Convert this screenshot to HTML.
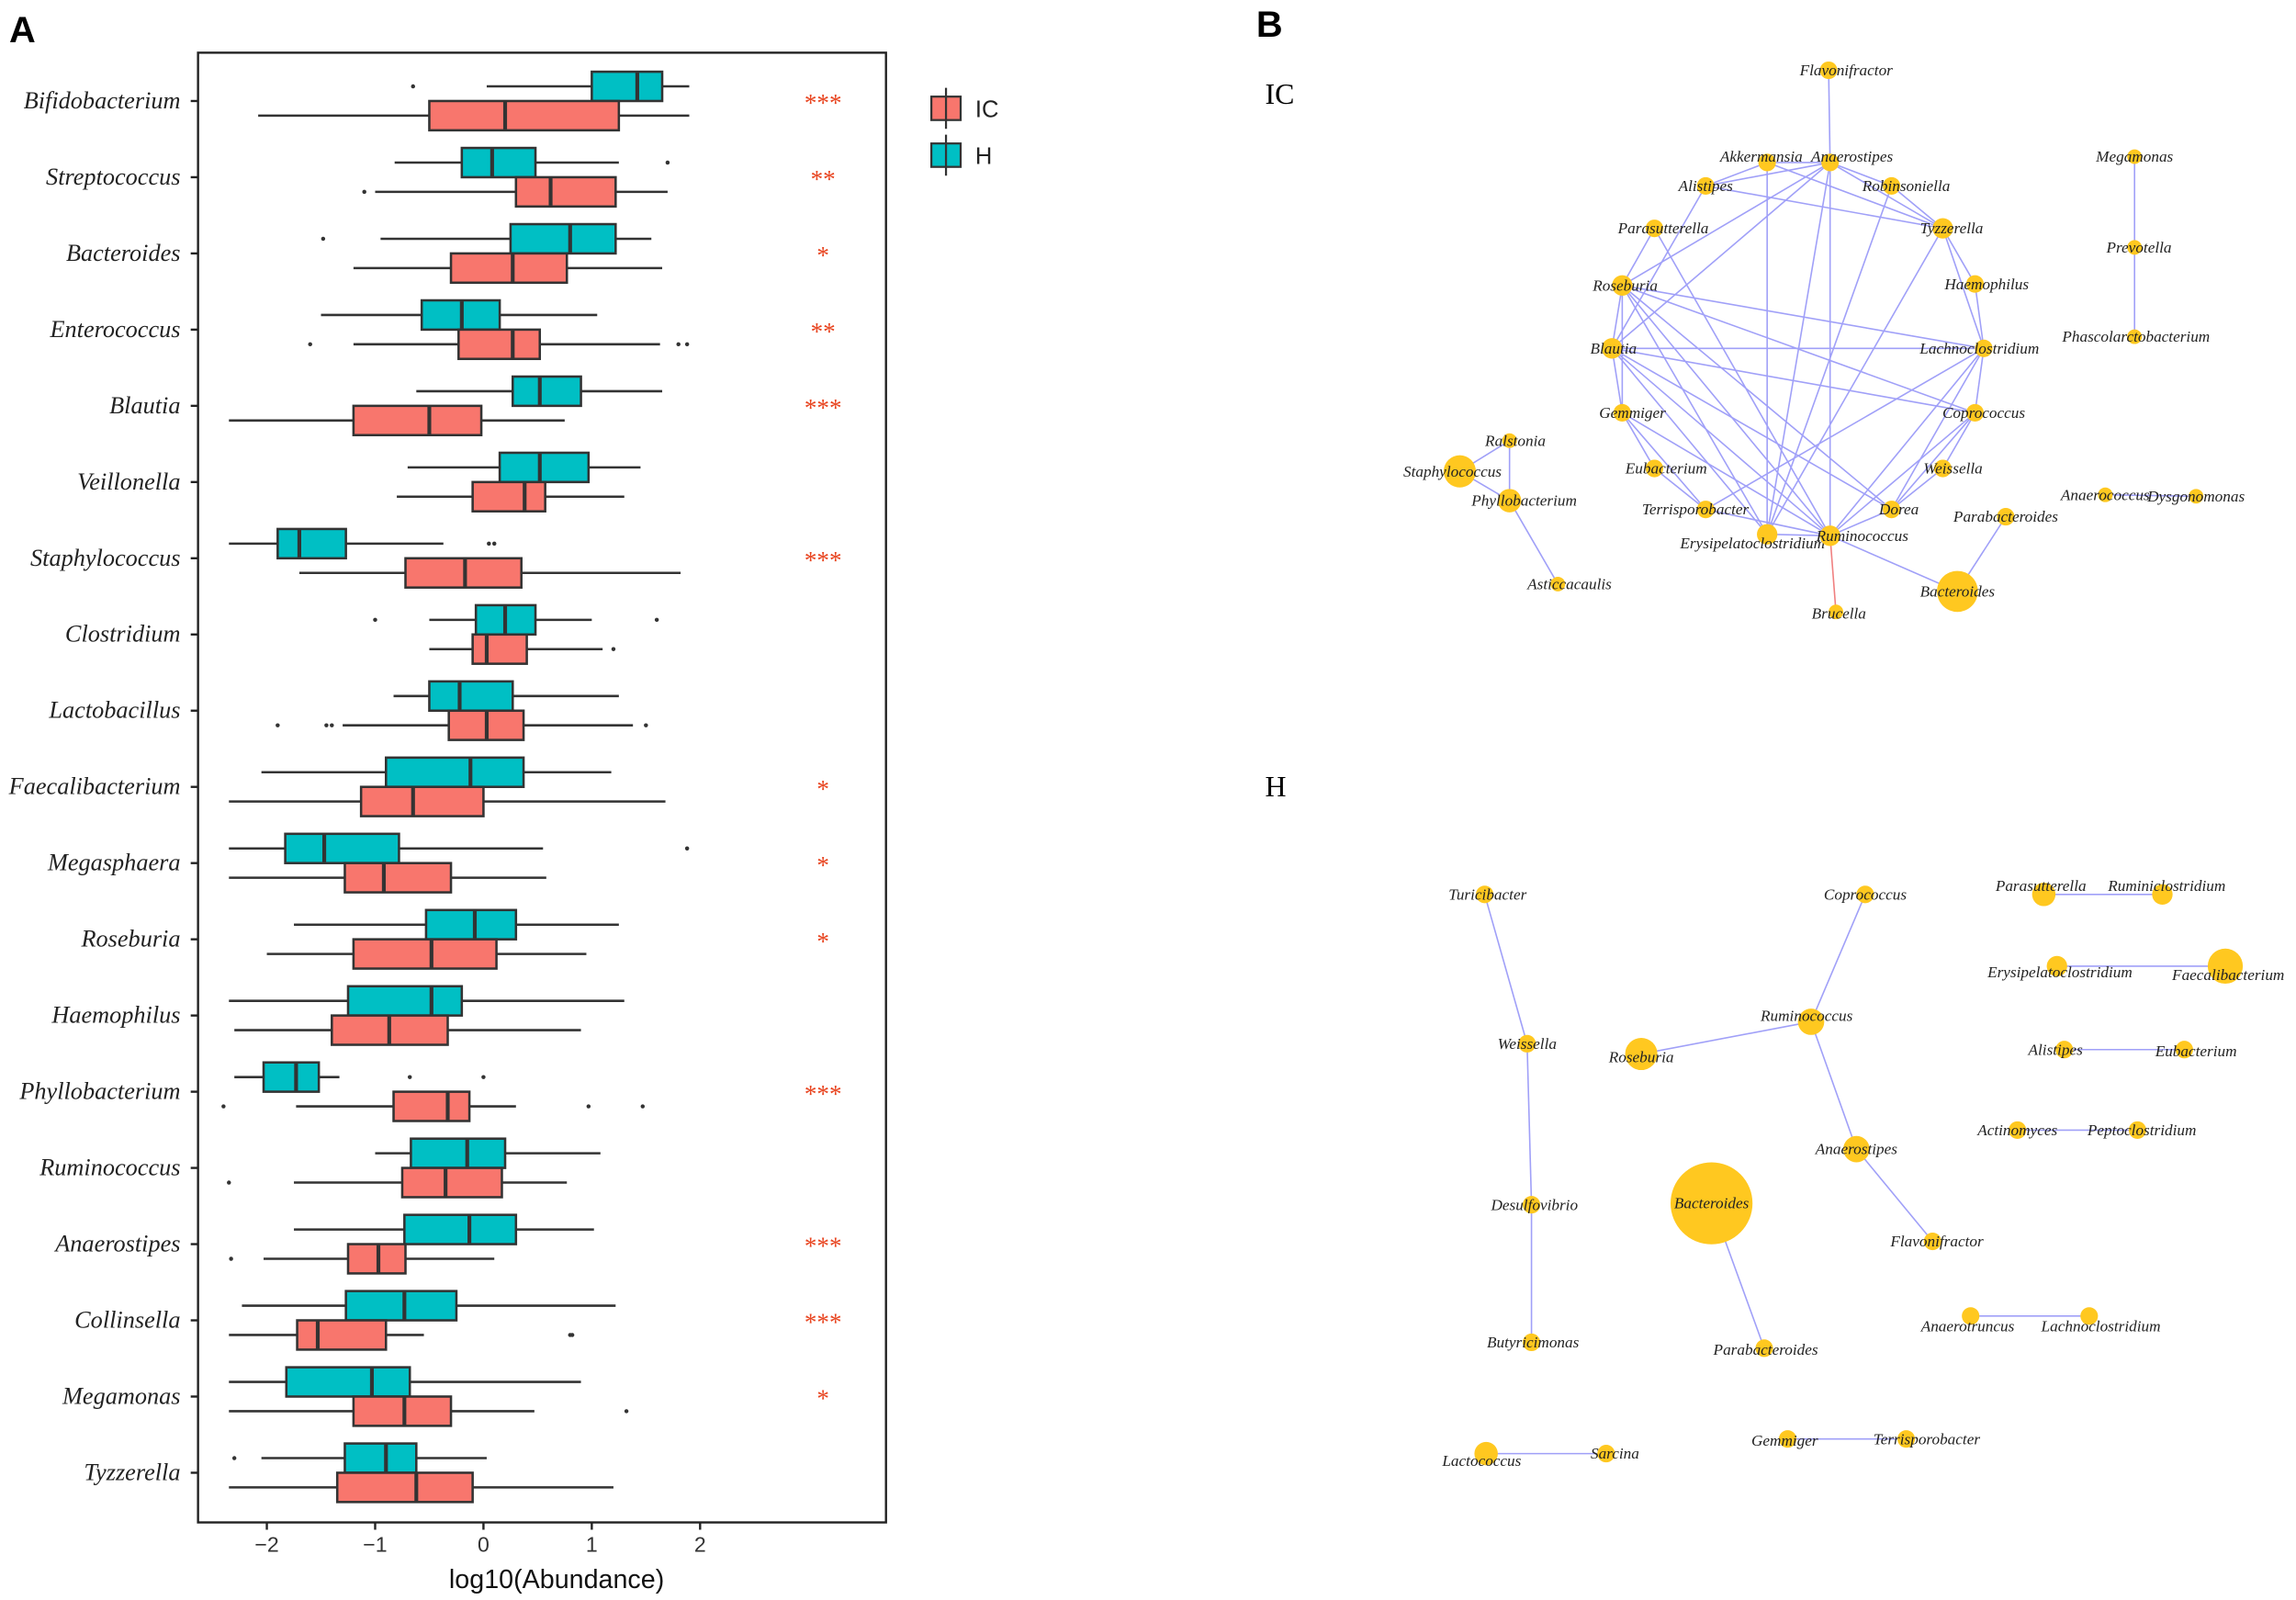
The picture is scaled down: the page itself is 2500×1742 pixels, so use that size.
<!DOCTYPE html>
<html><head><meta charset="utf-8"><style>
html,body{margin:0;padding:0;background:#fff;}
svg{display:block;}
.lab{font-family:"Liberation Serif",serif;font-style:italic;fill:#222;}
</style></head><body>
<svg id="chart" width="2500" height="1742" viewBox="0 0 1568 1093" xmlns="http://www.w3.org/2000/svg">
<rect x="0" y="0" width="1568" height="1093" fill="#fff"/>
<text x="6" y="29" font-family="Liberation Sans,sans-serif" font-weight="bold" font-size="25">A</text>
<text x="858" y="25" font-family="Liberation Sans,sans-serif" font-weight="bold" font-size="25">B</text>
<text x="864" y="71" font-family="Liberation Serif,serif" font-size="20">IC</text>
<text x="864" y="544" font-family="Liberation Serif,serif" font-size="20">H</text>
<g id="boxplot"></g>
<g id="net"></g>
</svg>
<script>
const categories=["Bifidobacterium","Streptococcus","Bacteroides","Enterococcus","Blautia","Veillonella","Staphylococcus","Clostridium","Lactobacillus","Faecalibacterium","Megasphaera","Roseburia","Haemophilus","Phyllobacterium","Ruminococcus","Anaerostipes","Collinsella","Megamonas","Tyzzerella"];
// [whiskerLow, q1, median, q3, whiskerHigh]
const hStats=[[0.03,1.0,1.42,1.65,1.9],[-0.82,-0.2,0.08,0.48,1.25],[-0.95,0.25,0.8,1.22,1.55],[-1.5,-0.57,-0.2,0.15,1.05],[-0.62,0.27,0.52,0.9,1.65],[-0.7,0.15,0.52,0.97,1.45],[-2.35,-1.9,-1.7,-1.27,-0.37],[-0.5,-0.07,0.2,0.48,1.0],[-0.83,-0.5,-0.22,0.27,1.25],[-2.05,-0.9,-0.12,0.37,1.18],[-2.35,-1.83,-1.47,-0.78,0.55],[-1.75,-0.53,-0.08,0.3,1.25],[-2.35,-1.25,-0.48,-0.2,1.3],[-2.3,-2.03,-1.73,-1.52,-1.33],[-1.0,-0.67,-0.15,0.2,1.08],[-1.75,-0.73,-0.13,0.3,1.02],[-2.23,-1.27,-0.73,-0.25,1.22],[-2.35,-1.82,-1.03,-0.68,0.9],[-2.05,-1.28,-0.9,-0.62,0.03]];
const icStats=[[-2.08,-0.5,0.2,1.25,1.9],[-1.0,0.3,0.62,1.22,1.7],[-1.2,-0.3,0.27,0.77,1.65],[-1.2,-0.23,0.27,0.52,1.63],[-2.35,-1.2,-0.5,-0.02,0.75],[-0.8,-0.1,0.38,0.57,1.3],[-1.7,-0.72,-0.17,0.35,1.82],[-0.5,-0.1,0.03,0.4,1.1],[-1.3,-0.32,0.03,0.37,1.38],[-2.35,-1.13,-0.65,0.0,1.68],[-2.35,-1.28,-0.92,-0.3,0.58],[-2.0,-1.2,-0.48,0.12,0.95],[-2.3,-1.4,-0.87,-0.33,0.9],[-1.73,-0.83,-0.33,-0.13,0.3],[-1.75,-0.75,-0.35,0.17,0.77],[-2.03,-1.25,-0.97,-0.72,0.1],[-2.35,-1.72,-1.53,-0.9,-0.55],[-2.35,-1.2,-0.73,-0.3,0.47],[-2.35,-1.35,-0.62,-0.1,1.2]];
const hOutliers=[[-0.65],[1.7],[-1.48],[],[],[],[0.05,0.1],[-1.0,1.6],[],[],[1.88],[],[],[-0.68,0.0],[],[],[],[],[-2.3]];
const icOutliers=[[],[-1.1],[],[-1.6,1.8,1.88],[],[],[],[1.2],[-1.9,-1.45,-1.4,1.5],[],[],[],[],[-2.4,0.97,1.47],[-2.35],[-2.33],[0.8,0.82],[1.32],[]];
const stars=["***","**","*","**","***","","***","","","*","*","*","","***","","***","***","*",""];
const xTicks=[-2,-1,0,1,2];
const xTickLabels=["\u22122","\u22121","0","1","2"];

const NS="http://www.w3.org/2000/svg";
function mk(tag,attrs,parent){const e=document.createElementNS(NS,tag);for(const k in attrs)e.setAttribute(k,attrs[k]);parent.appendChild(e);return e;}
const bp=document.getElementById('boxplot');
const X0=135,X1=605,Y0=36,Y1=1040;
function xs(v){return 330+v*74;}
function ys(i){return 69+i*52.06;}
let fr=mk('rect',{x:X0,y:Y0,width:X1-X0,height:Y1-Y0,fill:'none',stroke:'#222','stroke-width':1.5},bp);


function drawBox(s,outs,cy,col,name){
  const g=mk('g',{},bp);
  
  
  mk('line',{x1:xs(s[0]),x2:xs(s[1]),y1:cy,y2:cy,stroke:'#333','stroke-width':1.6},g);
  mk('line',{x1:xs(s[3]),x2:xs(s[4]),y1:cy,y2:cy,stroke:'#333','stroke-width':1.6},g);
  mk('rect',{x:xs(s[1]),y:cy-10,width:xs(s[3])-xs(s[1]),height:20,fill:col,stroke:'#333','stroke-width':1.6},g);
  mk('line',{x1:xs(s[2]),x2:xs(s[2]),y1:cy-10,y2:cy+10,stroke:'#333','stroke-width':2.6},g);
  outs.forEach(o=>{const c=mk('circle',{cx:xs(o),cy:cy,r:1.4,fill:'#333'},g);
    
    });
}
categories.forEach((c,i)=>{
  const cy=ys(i);
  drawBox(hStats[i],hOutliers[i],cy-10,'#00BFC4','box-h-'+c.toLowerCase());
  drawBox(icStats[i],icOutliers[i],cy+10,'#F8766D','box-ic-'+c.toLowerCase());
  const t=mk('text',{x:123,y:cy+5,'text-anchor':'end','font-size':16.5,class:'lab'},bp);
  t.textContent=c;
  
  
  const tk=mk('line',{x1:X0-5,x2:X0,y1:cy,y2:cy,stroke:'#222','stroke-width':1.5},bp);
  
  
  if(stars[i]){const s=mk('text',{x:562,y:cy+7,'text-anchor':'middle','font-size':17,fill:'#E8431E','font-family':'Liberation Serif,serif'},bp);
    s.textContent=stars[i];
    
    }
});
xTicks.forEach((v,i)=>{
  const l=mk('line',{x1:xs(v),x2:xs(v),y1:Y1,y2:Y1+5,stroke:'#222','stroke-width':1.5},bp);
  
  
  const t=mk('text',{x:xs(v),y:Y1+20,'text-anchor':'middle','font-size':14.5,fill:'#333','font-family':'Liberation Sans,sans-serif'},bp);
  t.textContent=xTickLabels[i];
  
  
});
const xt=mk('text',{x:380,y:1085,'text-anchor':'middle','font-size':18,fill:'#111','font-family':'Liberation Sans,sans-serif'},bp);
xt.textContent='log10(Abundance)';


[['IC','#F8766D',74],['H','#00BFC4',106]].forEach(([n,c,y])=>{
  const g=mk('g',{},bp);
  
  
  mk('line',{x1:646,x2:646,y1:y-14,y2:y+14,stroke:'#333','stroke-width':1.4},g);
  mk('rect',{x:636,y:y-8,width:20,height:16,fill:c,stroke:'#333','stroke-width':1.4},g);
  mk('line',{x1:646,x2:646,y1:y-8,y2:y+8,stroke:'#333','stroke-width':1.4},g);
  const t=mk('text',{x:666,y:y+6,'font-size':16,'font-family':'Liberation Sans,sans-serif',fill:'#222'},g);t.textContent=n;
});

// Networks: [name,x,y,r,labelDx,labelDy]
const icNodes=[["Flavonifractor",1249,48,6,12,0],["Akkermansia",1207,111,6,-4,-4],["Anaerostipes",1250,111,6,15,-4],["Alistipes",1165,127,6,0,0],["Robinsoniella",1292,127,6,10,0],["Parasutterella",1130,156,6,6,0],["Tyzzerella",1327,156,7,6,0],["Roseburia",1108,195,7,2,0],["Haemophilus",1349,194,6,8,0],["Blautia",1101,238,7,1,0],["Lachnoclostridium",1355,238,6,-3,0],["Gemmiger",1108,282,6,7,0],["Coprococcus",1349,282,6,6,0],["Eubacterium",1130,320,6,8,0],["Weissella",1327,320,6,7,0],["Terrisporobacter",1165,348,6,-7,0],["Dorea",1292,348,6,5,0],["Erysipelatoclostridium",1207,365,7,-10,6],["Ruminococcus",1250,366,7,22,0],["Brucella",1254,418,5,2,1],["Bacteroides",1337,404,14,0,0],["Parabacteroides",1370,353,6,0,0],["Ralstonia",1031,301,5,4,0],["Staphylococcus",997,322,11,-5,0],["Phyllobacterium",1031,342,8,10,0],["Asticcacaulis",1064,399,5,8,0],["Megamonas",1458,107,5,0,0],["Prevotella",1458,169,5,3,0],["Phascolarctobacterium",1458,230,5,1,0],["Anaerococcus",1438,338,5,0,0],["Dysgonomonas",1500,339,5,0,0]];
const icEdges=[["Flavonifractor","Anaerostipes"],["Akkermansia","Anaerostipes"],["Akkermansia","Alistipes"],["Akkermansia","Tyzzerella"],["Akkermansia","Erysipelatoclostridium"],["Anaerostipes","Alistipes"],["Anaerostipes","Robinsoniella"],["Anaerostipes","Tyzzerella"],["Anaerostipes","Roseburia"],["Anaerostipes","Blautia"],["Anaerostipes","Ruminococcus"],["Anaerostipes","Erysipelatoclostridium"],["Alistipes","Tyzzerella"],["Alistipes","Blautia"],["Robinsoniella","Tyzzerella"],["Robinsoniella","Erysipelatoclostridium"],["Parasutterella","Roseburia"],["Parasutterella","Ruminococcus"],["Tyzzerella","Haemophilus"],["Tyzzerella","Lachnoclostridium"],["Tyzzerella","Erysipelatoclostridium"],["Haemophilus","Lachnoclostridium"],["Roseburia","Blautia"],["Roseburia","Gemmiger"],["Roseburia","Lachnoclostridium"],["Roseburia","Coprococcus"],["Roseburia","Dorea"],["Roseburia","Ruminococcus"],["Roseburia","Erysipelatoclostridium"],["Blautia","Lachnoclostridium"],["Blautia","Coprococcus"],["Blautia","Gemmiger"],["Blautia","Ruminococcus"],["Blautia","Erysipelatoclostridium"],["Blautia","Dorea"],["Gemmiger","Eubacterium"],["Gemmiger","Terrisporobacter"],["Gemmiger","Ruminococcus"],["Lachnoclostridium","Coprococcus"],["Lachnoclostridium","Terrisporobacter"],["Lachnoclostridium","Ruminococcus"],["Lachnoclostridium","Dorea"],["Coprococcus","Weissella"],["Coprococcus","Dorea"],["Coprococcus","Ruminococcus"],["Weissella","Dorea"],["Eubacterium","Terrisporobacter"],["Terrisporobacter","Ruminococcus"],["Erysipelatoclostridium","Ruminococcus"],["Dorea","Ruminococcus"],["Ruminococcus","Bacteroides"],["Bacteroides","Parabacteroides"],["Staphylococcus","Ralstonia"],["Staphylococcus","Phyllobacterium"],["Ralstonia","Phyllobacterium"],["Phyllobacterium","Asticcacaulis"],["Megamonas","Prevotella"],["Prevotella","Phascolarctobacterium"],["Anaerococcus","Dysgonomonas"]];
const icNegEdges=[["Ruminococcus","Brucella"]];
const hNodes=[["Turicibacter",1014,611,6,2,0],["Weissella",1043,713,6,0,0],["Desulfovibrio",1046,823,6,2,0],["Butyricimonas",1046,917,6,1,0],["Coprococcus",1274,611,6,0,0],["Ruminococcus",1237,698,9,-3,-4],["Roseburia",1121,720,11,0,2],["Anaerostipes",1268,785,9,0,0],["Bacteroides",1169,822,28,0,0],["Flavonifractor",1320,848,6,3,0],["Parabacteroides",1205,921,6,1,1],["Parasutterella",1396,611,8,-2,-6],["Ruminiclostridium",1477,611,7,3,-6],["Erysipelatoclostridium",1405,660,7,2,4],["Faecalibacterium",1520,660,12,2,6],["Alistipes",1410,717,6,-6,0],["Eubacterium",1492,717,6,8,1],["Actinomyces",1378,772,6,0,0],["Peptoclostridium",1460,772,6,3,0],["Anaerotruncus",1346,899,6,-2,7],["Lachnoclostridium",1427,899,6,8,7],["Gemmiger",1221,983,6,-2,1],["Terrisporobacter",1302,983,6,14,0],["Lactococcus",1015,993,8,-3,5],["Sarcina",1097,993,6,6,0]];
const hEdges=[["Turicibacter","Weissella"],["Weissella","Desulfovibrio"],["Desulfovibrio","Butyricimonas"],["Coprococcus","Ruminococcus"],["Ruminococcus","Roseburia"],["Ruminococcus","Anaerostipes"],["Anaerostipes","Flavonifractor"],["Bacteroides","Parabacteroides"],["Parasutterella","Ruminiclostridium"],["Erysipelatoclostridium","Faecalibacterium"],["Alistipes","Eubacterium"],["Actinomyces","Peptoclostridium"],["Anaerotruncus","Lachnoclostridium"],["Gemmiger","Terrisporobacter"],["Lactococcus","Sarcina"]];

const net=document.getElementById('net');
function drawNet(nodes,edges,neg,tag){
  const m={};nodes.forEach(n=>m[n[0]]=n);
  const eg=mk('g',{},net);
  
  
  edges.concat(neg).forEach((e,i)=>{const a=m[e[0]],b=m[e[1]];
    const l=mk('line',{x1:a[1],y1:a[2],x2:b[1],y2:b[2],stroke:i>=edges.length?'#F08080':'#A0A0F8','stroke-width':1},eg);
    
    });
  nodes.forEach(n=>{
    const g=mk('g',{},net);
    
    
    mk('circle',{cx:n[1],cy:n[2],r:n[3],fill:'#FFC820'},g);
    const t=mk('text',{x:n[1]+n[4],y:n[2]+3.5+n[5],'text-anchor':'middle','font-size':10.8,class:'lab'},g);
    t.textContent=n[0];
  });
}
drawNet(icNodes,icEdges,icNegEdges,'ic');
drawNet(hNodes,hEdges,[],'h');
</script>
</body></html>
